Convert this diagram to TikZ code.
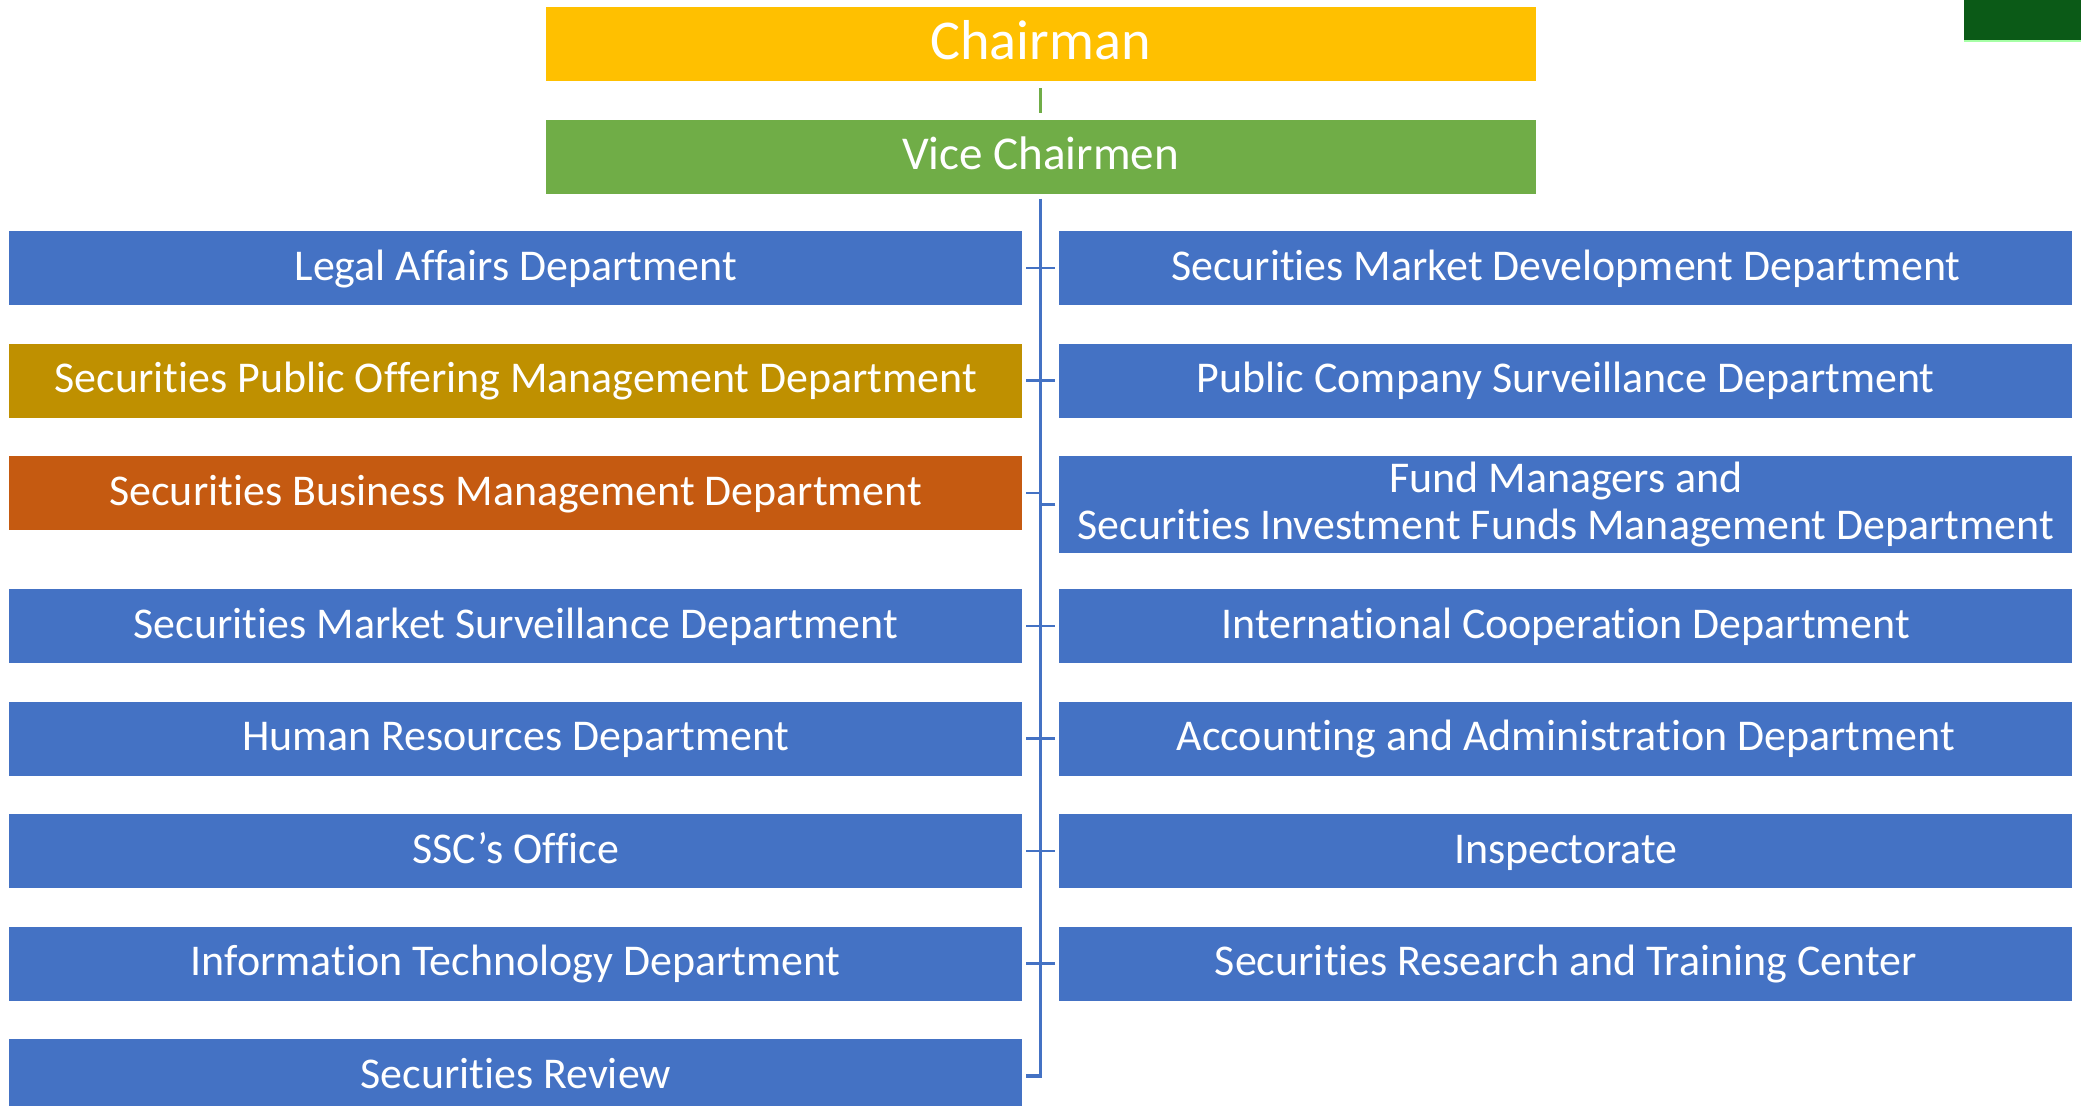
\documentclass[tikz,border=0pt]{standalone}
\usepackage{fontspec}
\setmainfont{Carlito}[Ligatures=NoCommon]
\usetikzlibrary{positioning}
\definecolor{chairgold}{HTML}{FFC000}
\definecolor{vicegreen}{HTML}{70AD47}
\definecolor{deptblue}{HTML}{4472C4}
\definecolor{offerolive}{HTML}{BF9000}
\definecolor{bizorange}{HTML}{C55A11}
\definecolor{cornergreen}{HTML}{0B5A17}
\tikzset{
	head/.style={
		rectangle,
		minimum width=9.9cm,
		minimum height=0.74cm,
		inner sep=0pt,
		outer sep=0pt,
		text=white,
	},
	dept/.style={
		rectangle,
		fill=deptblue,
		minimum width=10.13cm,
		minimum height=0.74cm,
		inner sep=0pt,
		outer sep=0pt,
		text height=9.5pt,
		text depth=2.5pt,
		text=white,
		align=center,
		font=\fontsize{12.5}{13.6}\selectfont,
	},
	trunk/.style={
		draw=deptblue,
		line width=1pt,
	},
	tick/.style={
		draw=deptblue,
		line width=0.7pt,
	},
}

\begin{document}
\begin{tikzpicture}[node distance=0.385cm]
		\useasboundingbox (0,0) rectangle (20.81,-11.05);
		\fill[cornergreen] (19.64,0) rectangle (20.81,-0.41);
		\draw[green!35, line width=0.4pt] (19.64,-0.41) -- (20.81,-0.41);

		% Place nodes
		\node[head, fill=chairgold, text height=12pt, text depth=3.1pt, font=\fontsize{16}{19}\selectfont] (chair) at (10.405,-0.44) {Chairman};
		\node[head, fill=vicegreen, text height=10pt, text depth=2.55pt, font=\fontsize{13.4}{16}\selectfont, below=of chair] (vice) {Vice Chairmen};

		% left column
		\node[dept, anchor=north west] (lad) at (0.093,-2.31) {Legal Affairs Department};
		\node[dept, fill=offerolive, below=of lad] (spo) {Securities Public Offering Management Department};
		\node[dept, fill=bizorange, below=of spo] (sbm) {Securities Business Management Department};
		\node[dept, below=0.59cm of sbm] (sms) {Securities Market Surveillance Department};
		\node[dept, below=of sms] (hrd) {Human Resources Department};
		\node[dept, below=of hrd] (office) {SSC’s Office};
		\node[dept, below=of office] (itd) {Information Technology Department};
		\node[dept, below=of itd] (review) {Securities Review};

		% right column
		\node[dept, right=0.37cm of lad] (smd) {Securities Market Development Department};
		\node[dept, right=0.37cm of spo] (pcs) {Public Company Surveillance Department};
		\node[dept, minimum height=0.97cm, text height={}, text depth={}, right=0.37cm of sbm.north east, anchor=north west] (fund) {Fund Managers and\\Securities Investment Funds Management Department};
		\node[dept, right=0.37cm of sms] (icd) {International Cooperation Department};
		\node[dept, right=0.37cm of hrd] (aad) {Accounting and Administration Department};
		\node[dept, right=0.37cm of office] (insp) {Inspectorate};
		\node[dept, right=0.37cm of itd] (src) {Securities Research and Training Center};

		\draw[vicegreen, line width=0.6pt, shorten <=0.07cm, shorten >=0.07cm] (chair) -- (vice);

		\coordinate (ttop) at ([yshift=-0.05cm]vice.south);
		\coordinate (tbot) at (review.east -| vice.south);
		\draw[trunk] (ttop) -- (tbot) -- ([xshift=0.04cm]review.east);

		\foreach \a/\b in {lad/smd, spo/pcs, sms/icd, hrd/aad, office/insp, itd/src}
			\draw[tick, shorten <=0.04cm, shorten >=0.04cm] (\a.east) -- (\b.west);
		\draw[tick] ([xshift=0.04cm]sbm.east) -- (sbm.east -| ttop);
		\draw[tick] ([xshift=-0.04cm]fund.west) -- (fund.west -| ttop);

	\end{tikzpicture}
\end{document}
